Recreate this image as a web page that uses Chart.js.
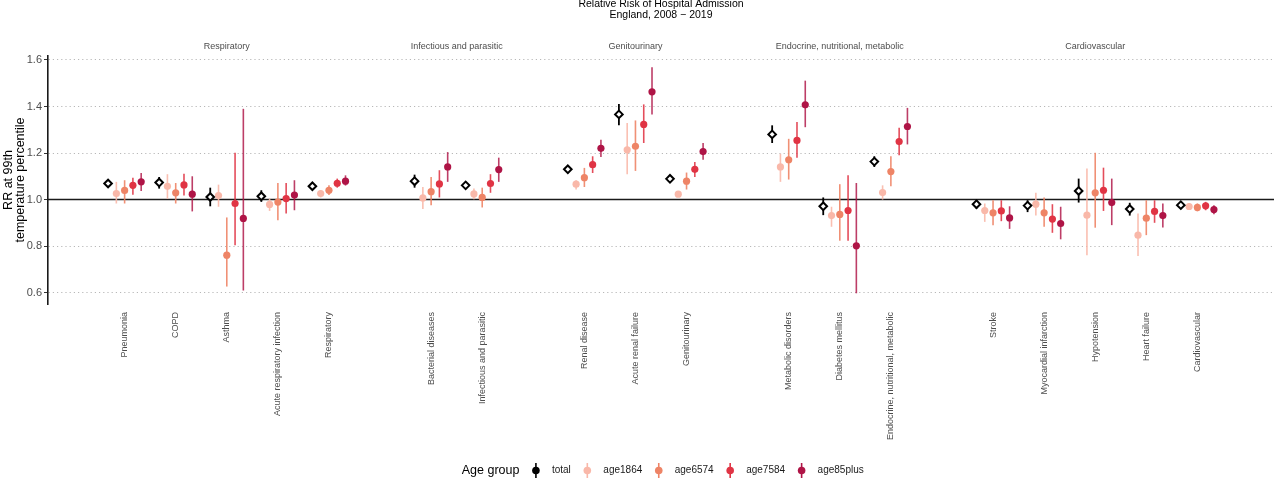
<!DOCTYPE html>
<html>
<head>
<meta charset="utf-8">
<script src="https://cdn.jsdelivr.net/npm/chart.js@4"></script>
<style>
  body { margin: 0; background: #fff; }
  #wrap { position: relative; width: 1280px; height: 478px; }
</style>
</head>
<body>
<div id="wrap"><canvas id="rrChart" width="1280" height="478"></canvas></div>
<script>
// categories and the panel each one belongs to
const groups = ["Respiratory", "Infectious and parasitic", "Genitourinary",
  "Endocrine, nutritional, metabolic", "Cardiovascular"];
const categories = ["Pneumonia", "COPD", "Asthma", "Acute respiratory infection", "Respiratory",
  "Bacterial diseases", "Infectious and parasitic",
  "Renal disease", "Acute renal failure", "Genitourinary",
  "Metabolic disorders", "Diabetes mellitus", "Endocrine, nutritional, metabolic",
  "Stroke", "Myocardial infarction", "Hypotension", "Heart failure", "Cardiovascular"];
const groupOf = [0, 0, 0, 0, 0, 1, 1, 2, 2, 2, 3, 3, 3, 4, 4, 4, 4, 4];

// relative risk at 99th temperature percentile, with 95% CI
const total    = [1.069, 1.073, 1.011, 1.014, 1.057, 1.079, 1.061, 1.130, 1.366, 1.089, 1.280, 0.971, 1.163, 0.980, 0.974, 1.037, 0.959, 0.976];
const total_lo = [1.057, 1.047, 0.971, 0.990, 1.046, 1.051, 1.046, 1.116, 1.319, 1.076, 1.243, 0.933, 1.140, 0.961, 0.946, 0.987, 0.931, 0.964];
const total_hi = [1.081, 1.097, 1.051, 1.040, 1.070, 1.107, 1.076, 1.144, 1.411, 1.100, 1.319, 1.009, 1.186, 0.997, 0.997, 1.090, 0.986, 0.987];

const age1864    = [1.026, 1.057, 1.017, 0.979, 1.026, 1.007, 1.024, 1.066, 1.214, 1.023, 1.140, 0.931, 1.030, 0.953, 0.980, 0.933, 0.847, 0.970];
const age1864_lo = [0.983, 1.003, 0.969, 0.951, 1.009, 0.959, 1.001, 1.043, 1.109, 1.011, 1.076, 0.883, 1.000, 0.904, 0.931, 0.761, 0.757, 0.957];
const age1864_hi = [1.076, 1.109, 1.064, 1.004, 1.040, 1.054, 1.047, 1.083, 1.329, 1.036, 1.197, 0.969, 1.061, 0.983, 1.029, 1.133, 0.940, 0.983];

const age6574    = [1.039, 1.029, 0.761, 0.989, 1.040, 1.034, 1.009, 1.094, 1.229, 1.079, 1.171, 0.936, 1.120, 0.943, 0.943, 1.029, 0.920, 0.966];
const age6574_lo = [0.983, 0.983, 0.626, 0.911, 1.019, 0.976, 0.966, 1.054, 1.123, 1.043, 1.086, 0.823, 1.057, 0.890, 0.883, 0.879, 0.847, 0.949];
const age6574_hi = [1.083, 1.071, 0.923, 1.071, 1.061, 1.097, 1.051, 1.136, 1.340, 1.116, 1.261, 1.066, 1.186, 0.997, 1.009, 1.201, 0.997, 0.983];

const age7584    = [1.061, 1.063, 0.983, 1.004, 1.070, 1.067, 1.069, 1.150, 1.323, 1.130, 1.254, 0.953, 1.249, 0.951, 0.916, 1.040, 0.949, 0.973];
const age7584_lo = [1.021, 1.017, 0.804, 0.940, 1.051, 1.009, 1.029, 1.114, 1.243, 1.097, 1.180, 0.823, 1.190, 0.907, 0.857, 0.951, 0.900, 0.954];
const age7584_hi = [1.094, 1.111, 1.201, 1.071, 1.090, 1.126, 1.109, 1.186, 1.409, 1.161, 1.333, 1.104, 1.309, 0.997, 0.980, 1.137, 0.997, 0.990];

const age85plus    = [1.076, 1.023, 0.919, 1.019, 1.079, 1.140, 1.129, 1.220, 1.463, 1.206, 1.407, 0.801, 1.314, 0.921, 0.897, 0.987, 0.931, 0.957];
const age85plus_lo = [1.037, 0.949, 0.609, 0.954, 1.060, 1.076, 1.076, 1.183, 1.366, 1.171, 1.311, 0.597, 1.237, 0.874, 0.829, 0.890, 0.880, 0.937];
const age85plus_hi = [1.114, 1.100, 1.390, 1.083, 1.104, 1.204, 1.180, 1.257, 1.569, 1.243, 1.511, 1.071, 1.394, 0.971, 0.969, 1.090, 0.983, 0.976];

const yTicks = [0.6, 0.8, 1.0, 1.2, 1.4, 1.6];
const titleLines = ["Relative Risk of Hospital Admission", "England, 2008 \u2212 2019"];

Chart.defaults.font.family = "'Liberation Sans', Arial, sans-serif";
Chart.defaults.color = "#4d4d4d";

// one empty slot between panels
const xPos = categories.map((c, i) => i + groupOf[i] + 1);
const dodge = 0.162;

const series = [
  { label: "total", v: total, lo: total_lo, hi: total_hi, color: "#000000", bar: "rgba(0,0,0,1)" },
  { label: "age1864", v: age1864, lo: age1864_lo, hi: age1864_hi, color: "#f9b8a9", bar: "rgba(249,184,169,0.9)" },
  { label: "age6574", v: age6574, lo: age6574_lo, hi: age6574_hi, color: "#ee8466", bar: "rgba(238,132,102,0.9)" },
  { label: "age7584", v: age7584, lo: age7584_lo, hi: age7584_hi, color: "#e03444", bar: "rgba(224,52,68,0.88)" },
  { label: "age85plus", v: age85plus, lo: age85plus_lo, hi: age85plus_hi, color: "#af1446", bar: "rgba(175,20,70,0.82)" }
];

const datasets = series.map((s, k) => ({
  label: s.label,
  barColor: s.bar,
  data: s.v.map((v, i) => ({ x: xPos[i] + (k - 2) * dodge, y: v, lo: s.lo[i], hi: s.hi[i] })),
  pointStyle: k === 0 ? "rectRot" : "circle",
  pointRadius: k === 0 ? 3.8 : 3.6,
  pointBackgroundColor: k === 0 ? "#ffffff" : s.color,
  pointBorderColor: s.color,
  pointBorderWidth: k === 0 ? 2 : 0,
  showLine: false
}));

const errorBars = {
  id: "errorBars",
  beforeDatasetsDraw(chart) {
    const { ctx, chartArea: a, scales: { y } } = chart;
    ctx.save();
    // reference line at RR = 1
    const y1 = y.getPixelForValue(1);
    ctx.strokeStyle = "#1a1a1a";
    ctx.lineWidth = 1.4;
    ctx.beginPath();
    ctx.moveTo(a.left, y1);
    ctx.lineTo(a.right, y1);
    ctx.stroke();
    chart.data.datasets.forEach((ds, i) => {
      const meta = chart.getDatasetMeta(i);
      ctx.strokeStyle = ds.barColor;
      ctx.lineWidth = i === 0 ? 1.8 : 1.6;
      meta.data.forEach((pt, j) => {
        const d = ds.data[j];
        ctx.beginPath();
        ctx.moveTo(pt.x, y.getPixelForValue(d.lo));
        ctx.lineTo(pt.x, y.getPixelForValue(d.hi));
        ctx.stroke();
      });
    });
    ctx.restore();
  }
};

const textBits = {
  id: "textBits",
  afterDraw(chart) {
    const { ctx, chartArea: a, scales: { x } } = chart;
    const cx = (a.left + a.right) / 2;
    ctx.save();
    ctx.textAlign = "center";
    ctx.textBaseline = "middle";
    // title
    ctx.fillStyle = "#000";
    ctx.font = "10.5px 'Liberation Sans', Arial, sans-serif";
    ctx.fillText(titleLines[0], cx, 4.5);
    ctx.fillText(titleLines[1], cx, 15);
    // panel labels
    ctx.fillStyle = "#4d4d4d";
    ctx.font = "9px 'Liberation Sans', Arial, sans-serif";
    groups.forEach((g, gi) => {
      const ps = xPos.filter((p, i) => groupOf[i] === gi);
      const mid = (Math.min(...ps) + Math.max(...ps)) / 2;
      ctx.fillText(g, x.getPixelForValue(mid), 46.5);
    });
    // legend
    const ly = 470.5;
    const titleFont = "12.5px 'Liberation Sans', Arial, sans-serif";
    const itemFont = "10px 'Liberation Sans', Arial, sans-serif";
    ctx.font = titleFont;
    const tw = ctx.measureText("Age group").width;
    ctx.font = itemFont;
    const widths = series.map(s => ctx.measureText(s.label).width);
    const total_w = tw + widths.reduce((a2, b) => a2 + b, 0) + series.length * 33;
    let px = cx - total_w / 2 + 3;
    ctx.textAlign = "left";
    ctx.fillStyle = "#000";
    ctx.font = titleFont;
    ctx.fillText("Age group", px, ly);
    px += tw;
    ctx.font = itemFont;
    series.forEach((s, k) => {
      const mx = px + 16.5;
      ctx.strokeStyle = s.color;
      ctx.lineWidth = 1.6;
      ctx.beginPath();
      ctx.moveTo(mx, ly - 7.5);
      ctx.lineTo(mx, ly + 7.5);
      ctx.stroke();
      ctx.fillStyle = s.color;
      ctx.beginPath();
      ctx.arc(mx, ly, 3.8, 0, Math.PI * 2);
      ctx.fill();
      ctx.fillStyle = "#1a1a1a";
      ctx.fillText(s.label, mx + 16, ly);
      px = mx + 16 + widths[k];
    });
    ctx.restore();
  }
};

new Chart(document.getElementById("rrChart"), {
  type: "scatter",
  data: { datasets },
  options: {
    responsive: false,
    animation: false,
    layout: { padding: { top: 56, right: 0, left: 0, bottom: 0 } },
    plugins: { legend: { display: false }, tooltip: { enabled: false } },
    scales: {
      x: {
        type: "linear",
        min: -0.5,
        max: 23.5,
        grid: { display: false },
        border: { display: false },
        afterBuildTicks: (scale) => { scale.ticks = xPos.map(v => ({ value: v })); },
        afterFit: (scale) => { scale.height = 174; },
        ticks: {
          autoSkip: false,
          minRotation: 90,
          maxRotation: 90,
          padding: 0,
          color: "#4d4d4d",
          font: { size: 9 },
          callback: (v) => categories[xPos.indexOf(v)] || ""
        }
      },
      y: {
        min: 0.551,
        max: 1.617,
        afterBuildTicks: (scale) => { scale.ticks = yTicks.map(v => ({ value: v })); },
        afterFit: (scale) => { scale.width = 48; },
        grid: {
          color: "#b8b8b8",
          lineWidth: 1,
          tickLength: 4,
          tickColor: "#333",
          tickWidth: 1
        },
        border: { display: true, color: "#1a1a1a", width: 1.6, dash: [1.2, 3] },
        ticks: {
          padding: 2,
          color: "#4d4d4d",
          font: { size: 11 },
          callback: (v) => v.toFixed(1)
        },
        title: {
          display: true,
          text: ["RR at 99th", "temperature percentile"],
          color: "#000",
          font: { size: 12.5, lineHeight: 1.0 },
          padding: { top: 2, bottom: 0 }
        }
      }
    }
  },
  plugins: [errorBars, textBits]
});
</script>
</body>
</html>
